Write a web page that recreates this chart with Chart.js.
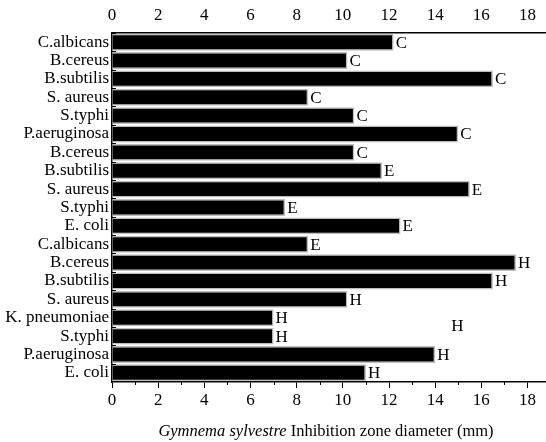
<!DOCTYPE html>
<html>
<head>
<meta charset="utf-8">
<script src="https://cdn.jsdelivr.net/npm/chart.js@4"></script>
<style>
    body { margin: 0; background: #fff; }
    #wrap { width: 546px; height: 442px; }
</style>
</head>
<body>
<div id="wrap"><canvas id="zoneChart"></canvas></div>
<script>
// bacteria, top to bottom
const organisms = ['C.albicans', 'B.cereus', 'B.subtilis', 'S. aureus', 'S.typhi', 'P.aeruginosa',
    'B.cereus', 'B.subtilis', 'S. aureus', 'S.typhi', 'E. coli', 'C.albicans',
    'B.cereus', 'B.subtilis', 'S. aureus', 'K. pneumoniae', 'S.typhi', 'P.aeruginosa', 'E. coli'];
// inhibition zone diameter (mm)
const diameters = [12.2, 10.2, 16.5, 8.5, 10.5, 15.0,
    10.5, 11.7, 15.5, 7.5, 12.5, 8.5,
    17.5, 16.5, 10.2, 7.0, 7.0, 14.0, 11.0];
// extract letter next to each bar
const extracts = ['C', 'C', 'C', 'C', 'C', 'C',
    'C', 'E', 'E', 'E', 'E', 'E',
    'H', 'H', 'H', 'H', 'H', 'H', 'H'];
const xTicks = [0, 2, 4, 6, 8, 10, 12, 14, 16, 18];
const minorTicks = [1, 3, 5, 7, 9, 11, 13, 15, 17];
// loose "H" floating in the plot
const strayLabel = { text: 'H', x: 14.7, y: 15.5 };

const serif = '"Liberation Serif", "DejaVu Serif", serif';

const keepTicks = function(scale) {
    scale.ticks = xTicks.map(v => ({ value: v }));
};

const extrasPlugin = {
    id: 'extras',
    afterDatasetsDraw(chart) {
        const ctx = chart.ctx;
        const x = chart.scales.x;
        const y = chart.scales.y;
        const area = chart.chartArea;
        ctx.save();
        ctx.fillStyle = '#000';
        ctx.font = '17px ' + serif;
        ctx.textBaseline = 'middle';
        ctx.textAlign = 'left';
        diameters.forEach((d, i) => {
            ctx.fillText(extracts[i], x.getPixelForValue(d) + 2, y.getPixelForValue(i) + 1);
        });
        ctx.fillText(strayLabel.text, x.getPixelForValue(strayLabel.x), y.getPixelForValue(strayLabel.y));

        // inward ticks on the category axis, at the boundaries
        ctx.strokeStyle = '#000';
        ctx.lineWidth = 1.5;
        ctx.beginPath();
        for (let i = 0; i < organisms.length; i++) {
            const py = Math.round(y.getPixelForValue(i - 0.5)) + 0.5;
            ctx.moveTo(area.left, py);
            ctx.lineTo(area.left + 4, py);
        }
        // minor ticks on the bottom axis
        ctx.lineWidth = 1;
        minorTicks.forEach(v => {
            const px = Math.round(x.getPixelForValue(v)) + 0.5;
            ctx.moveTo(px, area.bottom);
            ctx.lineTo(px, area.bottom + 3);
        });
        ctx.stroke();

        // axis title, part italic
        const cx = (area.left + area.right) / 2 - 3;
        const ty = 432;
        const part1 = 'Gymnema sylvestre';
        const part2 = ' Inhibition zone diameter (mm)';
        ctx.font = 'italic 16.5px ' + serif;
        const w1 = ctx.measureText(part1).width;
        ctx.font = '16.5px ' + serif;
        const w2 = ctx.measureText(part2).width;
        const start = cx - (w1 + w2) / 2;
        ctx.font = 'italic 16.5px ' + serif;
        ctx.fillText(part1, start, ty);
        ctx.font = '16.5px ' + serif;
        ctx.fillText(part2, start + w1, ty);
        ctx.restore();
    }
};

const ctx = document.getElementById('zoneChart').getContext('2d');
const zoneChart = new Chart(ctx, {
    type: 'bar',
    data: {
        labels: organisms,
        datasets: [{
            data: diameters,
            backgroundColor: '#000',
            borderColor: '#bdbdbd',
            borderWidth: 1.5,
            barPercentage: 0.92,
            categoryPercentage: 1
        }]
    },
    options: {
        indexAxis: 'y',
        responsive: true,
        maintainAspectRatio: false,
        animation: false,
        layout: { padding: 0 },
        plugins: {
            legend: { display: false },
            tooltip: { enabled: false }
        },
        scales: {
            x: {
                position: 'bottom',
                min: 0,
                max: 18.8,
                afterBuildTicks: keepTicks,
                afterFit: function(scale) { scale.height = 60; },
                grid: { drawOnChartArea: false, tickLength: 6, color: '#000', lineWidth: 1 },
                border: { display: true, color: '#000', width: 1.5 },
                ticks: { color: '#000', padding: 2, font: { family: serif, size: 17 } }
            },
            x2: {
                position: 'top',
                axis: 'x',
                min: 0,
                max: 18.8,
                afterBuildTicks: keepTicks,
                afterFit: function(scale) { scale.height = 33; },
                grid: { display: false, drawTicks: false },
                border: { display: true, color: '#000', width: 1.5 },
                ticks: { color: '#000', padding: 7, font: { family: serif, size: 17 } }
            },
            y: {
                afterFit: function(scale) { scale.width = 112; },
                grid: { display: false, drawTicks: false },
                border: { display: true, color: '#000', width: 1.5 },
                ticks: { color: '#000', padding: 3, autoSkip: false, font: { family: serif, size: 17 } }
            }
        }
    },
    plugins: [extrasPlugin]
});
</script>
</body>
</html>
